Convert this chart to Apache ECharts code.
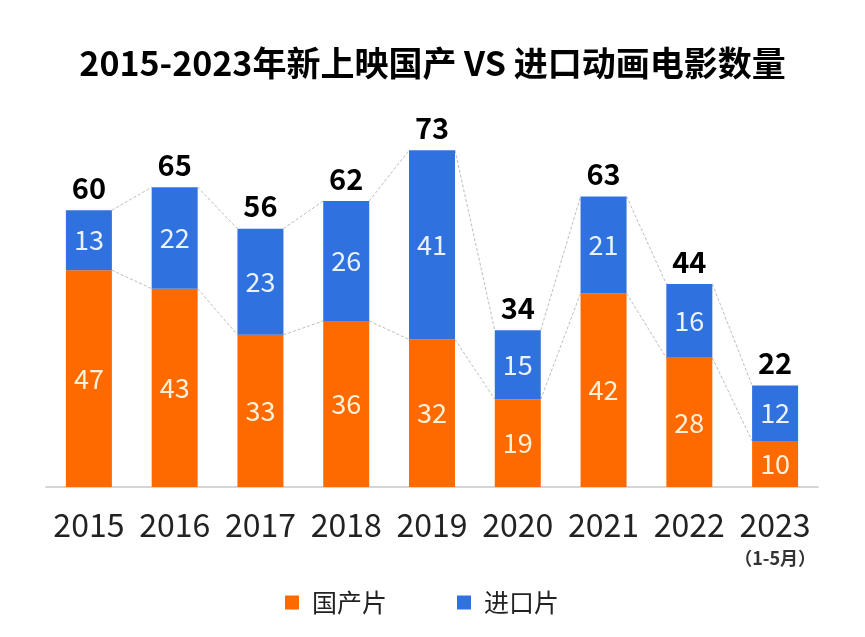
<!DOCTYPE html>
<html><head><meta charset="utf-8">
<script src="https://cdn.jsdelivr.net/npm/echarts@6/dist/echarts.min.js"></script>
<style>html,body{margin:0;padding:0;background:#fff}#c{width:865px;height:637px}</style>
</head><body><div id="c"></div>
<script>
const categories = ['2015','2016','2017','2018','2019','2020','2021','2022','2023'];
const domestic = [47, 43, 33, 36, 32, 19, 42, 28, 10];
const imported = [13, 22, 23, 26, 41, 15, 21, 16, 12];
const seriesNames = ['国产片', '进口片'];
const titleText = '2015-2023年新上映国产 VS 进口动画电影数量';
const noteText = '（1-5月）';

const totals = domestic.map((d, i) => d + imported[i]);
const FONT = '"Noto Sans CJK SC","Noto Sans",sans-serif';
const BAR_W = 46;
const ORANGE = '#FF6A00';
const BLUE = '#2F71DE';

const lineData = [];
for (let i = 0; i < categories.length - 1; i++) {
  lineData.push([i, domestic[i], totals[i], domestic[i + 1], totals[i + 1]]);
}

const chart = echarts.init(document.getElementById('c'), null, {renderer: 'canvas'});
chart.setOption({
  backgroundColor: '#fff',
  animation: false,
  title: {
    text: titleText, left: 'center', top: 41,
    textStyle: {fontFamily: FONT, fontSize: 34, fontWeight: 'bold', color: '#000'}
  },
  legend: {
    left: 280, top: 585, itemWidth: 14, itemHeight: 14, itemGap: 70,
    icon: 'rect',
    data: seriesNames,
    textStyle: {fontFamily: FONT, fontSize: 25, color: '#222', padding: [0, 0, 0, 8]}
  },
  grid: {left: 46, right: 47, top: 118, bottom: 150},
  xAxis: {
    type: 'category', data: categories,
    axisLine: {lineStyle: {color: '#c8c8c8', width: 1.5}},
    axisTick: {show: false},
    axisLabel: {
      margin: 20, interval: 0,
      fontFamily: FONT, fontSize: 32, color: '#222', lineHeight: 36,
      formatter: (v, i) => i === categories.length - 1 ? v + '\n{s|' + noteText + '}' : v,
      rich: {s: {fontFamily: FONT, fontSize: 18, fontWeight: 'bold', color: '#333', lineHeight: 30}}
    }
  },
  yAxis: {type: 'value', min: 0, max: 80, show: false, splitLine: {show: false}},
  series: [
    {
      type: 'custom', z: 1, silent: true,
      data: lineData,
      encode: {x: 0, y: 1},
      renderItem: function (params, api) {
        const i = api.value(0);
        const half = BAR_W / 2;
        const a1 = api.coord([i, api.value(1)]);
        const a2 = api.coord([i, api.value(2)]);
        const b1 = api.coord([i + 1, api.value(3)]);
        const b2 = api.coord([i + 1, api.value(4)]);
        const style = {stroke: '#bdbdbd', lineWidth: 1, lineDash: [3, 2], fill: null};
        return {
          type: 'group',
          children: [
            {type: 'line', shape: {x1: a1[0] + half, y1: a1[1], x2: b1[0] - half, y2: b1[1]}, style: style},
            {type: 'line', shape: {x1: a2[0] + half, y1: a2[1], x2: b2[0] - half, y2: b2[1]}, style: style}
          ]
        };
      }
    },
    {
      name: seriesNames[0], type: 'bar', stack: 's', barWidth: BAR_W, z: 2,
      data: domestic,
      itemStyle: {color: ORANGE},
      label: {show: true, position: 'inside', fontFamily: FONT, fontSize: 27, color: '#FFF0D8'}
    },
    {
      name: seriesNames[1], type: 'bar', stack: 's', barWidth: BAR_W, z: 2,
      data: imported,
      itemStyle: {color: BLUE},
      label: {show: true, position: 'inside', fontFamily: FONT, fontSize: 27, color: '#EAF2FF'}
    },
    {
      type: 'scatter', symbolSize: 0, z: 3, silent: true,
      data: totals,
      itemStyle: {opacity: 1},
      label: {show: true, position: 'top', distance: 8, fontFamily: FONT, fontSize: 29, fontWeight: 'bold', color: '#000'}
    }
  ]
});
</script></body></html>
